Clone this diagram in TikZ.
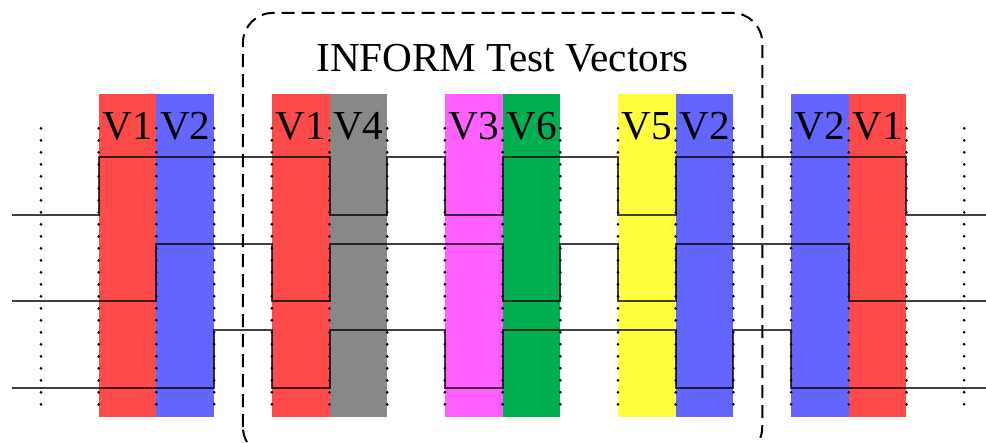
\documentclass[tikz,border=0pt]{standalone}
\usepackage{fontspec}
\setmainfont{Liberation Serif}
\newfontfamily\vecfont{Liberation Serif}
\definecolor{vred}{HTML}{FF4A4A}
\definecolor{vblue}{HTML}{6464FF}
\definecolor{vgray}{HTML}{888888}
\definecolor{vmag}{HTML}{FF60FF}
\definecolor{vgreen}{HTML}{00B050}
\definecolor{vyel}{HTML}{FFFF40}
\tikzset{
  sig/.style={black,opacity=.75,line width=1pt},
  tick/.style={line width=1.5pt,dash pattern=on 0pt off 6pt,line cap=round},
  dashbox/.style={line width=1pt,dash pattern=on 6.5pt off 3.5pt,rounded corners=15pt},
}
\tikzstyle{every node}=[font=\vecfont\fontsize{20.6}{24}\selectfont]

\begin{document}
\begin{tikzpicture}[x=28.85pt,y=28.85pt]
    \useasboundingbox (-0.711,-0.953) rectangle (16.378,6.724);
    % vector columns
    \foreach \k/\c in {1/vred,2/vblue,4/vred,5/vgray,7/vmag,8/vgreen,10/vyel,11/vblue,13/vblue,14/vred}
      \fill[\c] (\k,-0.5) rectangle (\k+1,5.1);
    \foreach \k in {0,...,16}
      \draw[tick] (\k,4.5)--(\k,-0.4);
    % the three lines
    \begin{scope}[sig]
      \draw (-0.5,3)--(1,3)--(1,4)--(5,4)--(5,3)--(6,3)--(6,4)--(7,4)--(7,3)--(8,3)--(8,4)--(10,4)--(10,3)--(11,3)--(11,4)--(15,4)--(15,3)--(16.4,3);
      \draw (-0.5,1.5)--(2,1.5)--(2,2.5)--(4,2.5)--(4,1.5)--(5,1.5)--(5,2.5)--(8,2.5)--(8,1.5)--(9,1.5)--(9,2.5)--(10,2.5)--(10,1.5)--(11,1.5)--(11,2.5)--(14,2.5)--(14,1.5)--(16.4,1.5);
      \draw (-0.5,0)--(3,0)--(3,1)--(4,1)--(4,0)--(5,0)--(5,1)--(7,1)--(7,0)--(8,0)--(8,1)--(11,1)--(11,0)--(12,0)--(12,1)--(13,1)--(13,0)--(16.4,0);
    \end{scope}
    \foreach \k/\t in {1/V1,2/V2,4/V1,5/V4,7/V3,8/V6,10/V5,11/V2,13/V2,14/V1}
      \node[anchor=base,inner sep=0pt] (v\k) at (\k+0.5,4.3) {\t};
    \node[anchor=base,inner sep=0pt] (title) at (8,5.48) {INFORM Test Vectors};
    \draw[dashbox] (3.5,-1.2) rectangle (12.5,6.5);
  \end{tikzpicture}
\end{document}
